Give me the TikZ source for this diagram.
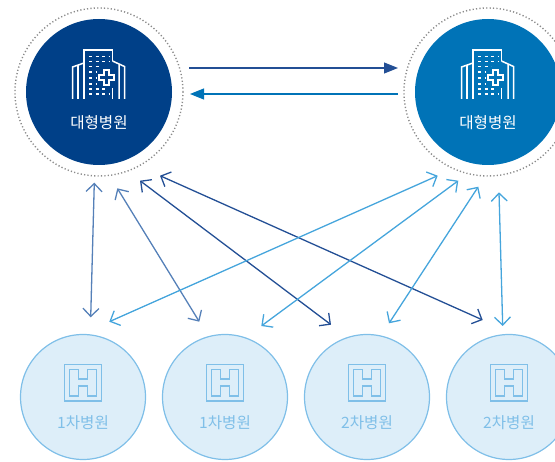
\documentclass[tikz,border=0pt]{standalone}
\usepackage{fontspec}
\setmainfont{Noto Sans CJK KR}
\usetikzlibrary{arrows.meta}
\definecolor{bignavy}{HTML}{004088}
\definecolor{bigblue}{HTML}{0073B7}
\definecolor{smallfill}{HTML}{DDEEF9}
\definecolor{smallline}{HTML}{7FBFE8}
\definecolor{darkline}{HTML}{234F95}
\definecolor{midline}{HTML}{5580B8}
\definecolor{lightline}{HTML}{45A5DC}
\definecolor{ringgray}{HTML}{8A8A8A}
\tikzset{
  bighosp/.style={circle, minimum size=146pt, inner sep=0pt},
  ring/.style={circle, minimum size=168pt, inner sep=0pt, draw=ringgray, line width=1.4pt, dash pattern=on 1.2pt off 2.2pt},
  smallhosp/.style={circle, minimum size=125pt, inner sep=0pt, fill=smallfill, draw=smallline, line width=1.2pt},
  biglabel/.style={text=white, font=\fontsize{15.6}{17}\selectfont, inner sep=0pt},
  smalllabel/.style={text=smallline, font=\fontsize{15.6}{17}\selectfont, inner sep=0pt},
  twoway/.style={{Straight Barb[length=8pt,width=16pt]}-{Straight Barb[length=8pt,width=16pt]}, line width=1.3pt},
  oneway/.style={-{Triangle[length=14pt,width=11pt]}, line width=1.1pt},
  tower/.pic={
    \draw[white, line width=1.5pt] (-15,7) -- (-15,-42) -- (13.5,-42) -- (13.5,-31);
    \draw[white, line width=1.5pt] (-15,-29) -- (-26.5,-25) -- (-26.5,7);
    \draw[white, line width=1.5pt] (-21,7) -- (-21,-27);
    \draw[white, line width=1.5pt] (13.5,-31) -- (25.5,-25.5) -- (25.5,7) (20,7) -- (20,-28);
    \draw[white, line width=1.5pt] (13.5,7) -- (13.5,-4);
    \draw[white, line width=1.5pt, dash pattern=on 3pt off 3.5pt] (-10,-35.5) -- (11,-35.5) (-10,-30.5) -- (11,-30.5) (-10,-25.5) -- (3,-25.5) (-10,-20) -- (-3,-20) (-10,-14) -- (-3,-14) (-10,-8) -- (-3,-8) (-10,-3) -- (6,-3) (-10,2) -- (11,2);
    \draw[white, line width=1.5pt] (5,-22) -- (10,-22) -- (10,-17) -- (15,-17) -- (15,-12) -- (10,-12) -- (10,-7) -- (5,-7) -- (5,-12) -- (0,-12) -- (0,-17) -- (5,-17) -- cycle;
  },
  hmark/.pic={
    \draw[smallline, line width=1.5pt] (-18.5,-32.5) rectangle (18.5,4);
    \draw[smallline, line width=1.5pt] (-13.5,-27.5) -- (-4.5,-27.5) -- (-4.5,-18) -- (4.5,-18) -- (4.5,-27.5) -- (13.5,-27.5) -- (13.5,-1) -- (4.5,-1) -- (4.5,-11) -- (-4.5,-11) -- (-4.5,-1) -- (-13.5,-1) -- cycle;
  }
}
\begin{document}
\begin{tikzpicture}[x=1pt,y=-1pt]
\clip (0,0) rectangle (555,462);
% big hospitals
\node[ring] (ring0) at (99,92){};
\node[ring] (ring1) at (488,92){};
\node[bighosp, fill=bignavy] (big0) at (99,92){};
\node[bighosp, fill=bigblue] (big1) at (488,92){};
\pic at (big0.center) {tower};
\pic at (big1.center) {tower};
\node[biglabel] (biglab0) at (99,123){대형병원};
\node[biglabel] (biglab1) at (488,123){대형병원};
% small hospitals
\node[smallhosp] (small0) at (83,397){};
\node[smallhosp] (small1) at (225,397){};
\node[smallhosp] (small2) at (367,397){};
\node[smallhosp] (small3) at (509,397){};
\pic at (small0.center) {hmark};
\pic at (small1.center) {hmark};
\pic at (small2.center) {hmark};
\pic at (small3.center) {hmark};
\node[smalllabel] (smalllab0) at (83,423){1차병원};
\node[smalllabel] (smalllab1) at (225,423){1차병원};
\node[smalllabel] (smalllab2) at (367,423){2차병원};
\node[smalllabel] (smalllab3) at (509,423){2차병원};
% arrow ends
\coordinate (top0) at (189,68);
\coordinate (top1) at (398,68);
\coordinate (top2) at (398,94);
\coordinate (top3) at (190,94);
\coordinate (a0) at (94.3,182.7);
\coordinate (a1) at (90.7,317.3);
\coordinate (b0) at (117.3,188.3);
\coordinate (b1) at (199.3,321.7);
\coordinate (c0) at (140,180.7);
\coordinate (c1) at (331,324.7);
\coordinate (d0) at (160,175.7);
\coordinate (d1) at (482.7,320);
\coordinate (e0) at (109.3,321.7);
\coordinate (e1) at (437.7,175.7);
\coordinate (f0) at (261.3,326);
\coordinate (f1) at (458.3,180.7);
\coordinate (g0) at (389,323.3);
\coordinate (g1) at (478.3,186.7);
\coordinate (h0) at (499,192.3);
\coordinate (h1) at (502.7,326);
% arrows
\draw[oneway, darkline] (top0) -- (top1);
\draw[oneway, bigblue] (top2) -- (top3);
\draw[twoway, midline] (a0) -- (a1);
\draw[twoway, midline] (b0) -- (b1);
\draw[twoway, darkline] (c0) -- (c1);
\draw[twoway, darkline] (d0) -- (d1);
\draw[twoway, lightline] (e0) -- (e1);
\draw[twoway, lightline] (f0) -- (f1);
\draw[twoway, lightline] (g0) -- (g1);
\draw[twoway, lightline] (h0) -- (h1);
\end{tikzpicture}
\end{document}
